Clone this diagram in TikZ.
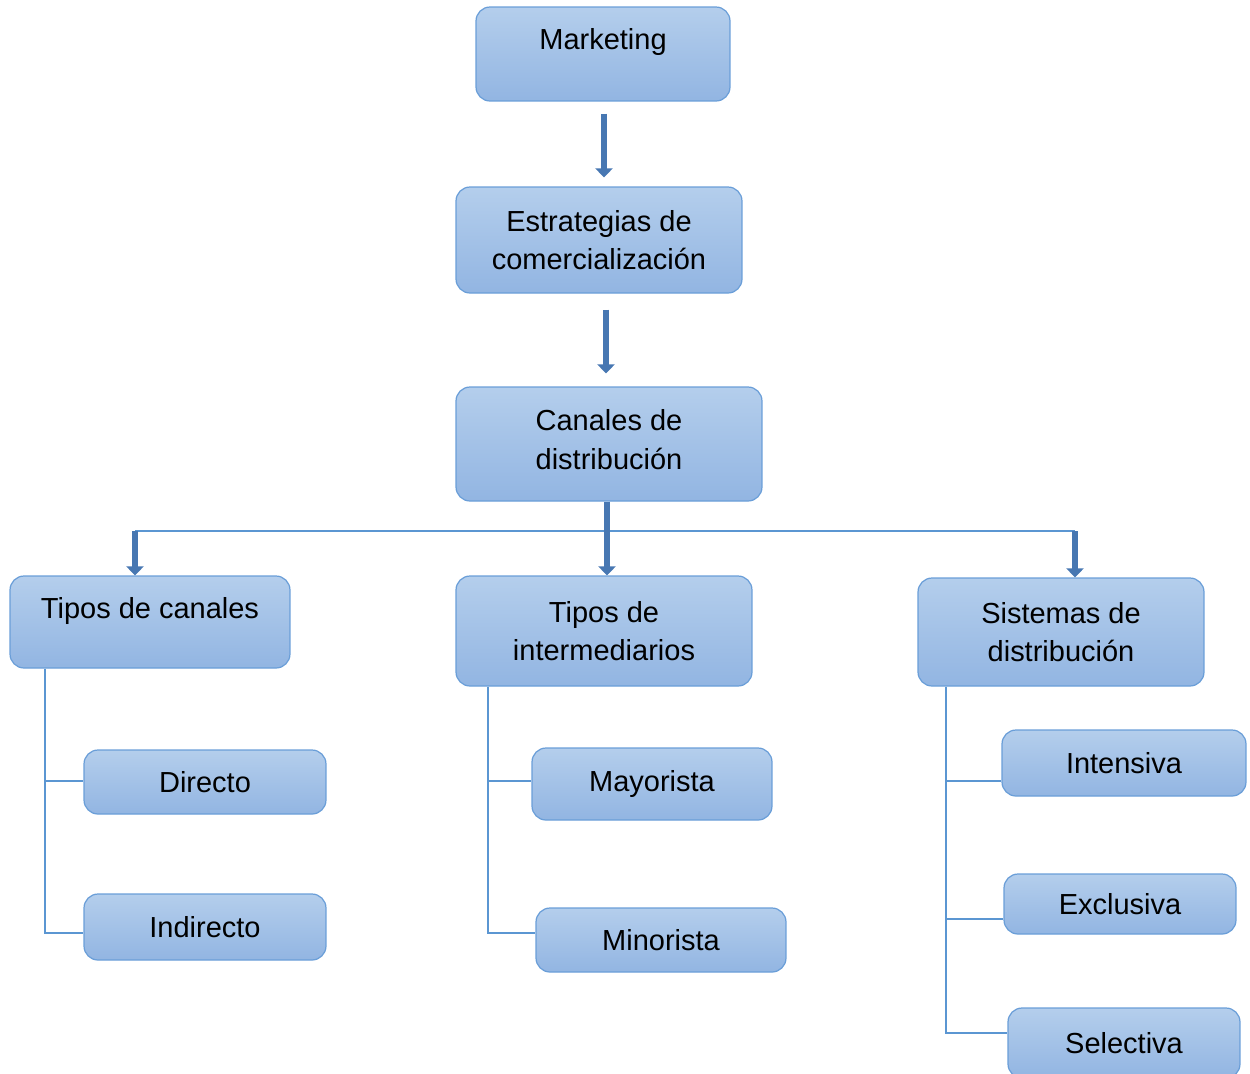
\documentclass[tikz,border=0pt]{standalone}
\usepackage{fontspec}
\setmainfont{Liberation Sans}
\usetikzlibrary{arrows.meta}

\definecolor{boxtop}{HTML}{B4CEEC}
\definecolor{boxbottom}{HTML}{92B5E2}
\definecolor{boxline}{HTML}{6A9ED8}
\definecolor{treeline}{HTML}{5B96D2}
\definecolor{arrowblue}{HTML}{4777B2}

\begin{document}
\begin{tikzpicture}[x=0.02cm,y=-0.02cm,
    box/.style={draw=boxline,line width=0.7pt,rounded corners=0.28cm,
        top color=boxtop,bottom color=boxbottom,inner sep=0pt,align=center,
        font=\fontsize{16.5}{22}\selectfont},
    bigarrow/.style={arrowblue,line width=0.13cm,
        -{Triangle[width=0.34cm,length=0.18cm]}},
    tree/.style={treeline,line width=0.6pt}]

    \useasboundingbox (0,0) rectangle (1250,1073);

    % Top chain
    \node[box,minimum width=5.08cm,minimum height=1.88cm] (mkt) at (603,54) {Marketing\\[-4.5pt]\mbox{}};
    \node[box,minimum width=5.72cm,minimum height=2.12cm] (est) at (599,240) {Estrategias de\\comercialización};
    \node[box,minimum width=6.12cm,minimum height=2.28cm] (can) at (609,444) {Canales de\\distribución\\[-17pt]\mbox{}};

    % Second level
    \node[box,minimum width=5.6cm,minimum height=1.84cm] (tcan) at (150,622) {Tipos de canales\\[-6pt]\mbox{}};
    \node[box,minimum width=5.92cm,minimum height=2.2cm] (tint) at (604,631) {Tipos de\\intermediarios};
    \node[box,minimum width=5.72cm,minimum height=2.16cm] (sis) at (1061,632) {Sistemas de\\distribución};

    % Leaves
    \node[box,minimum width=4.84cm,minimum height=1.28cm] (dir) at (205,782) {Directo};
    \node[box,minimum width=4.84cm,minimum height=1.32cm] (ind) at (205,927) {Indirecto};
    \node[box,minimum width=4.8cm,minimum height=1.44cm] (may) at (652,784) {Mayorista};
    \node[box,minimum width=5cm,minimum height=1.28cm] (min) at (661,940) {Minorista};
    \node[box,minimum width=4.88cm,minimum height=1.32cm] (inten) at (1124,763) {Intensiva};
    \node[box,minimum width=4.64cm,minimum height=1.2cm] (exc) at (1120,904) {Exclusiva};
    \node[box,minimum width=4.64cm,minimum height=1.4cm] (sel) at (1124,1043) {Selectiva};

    % Arrows
    \draw[bigarrow,shorten <=0.24cm,shorten >=0.18cm] (mkt.south -| 604,0) -- (est.north -| 604,0);
    \draw[bigarrow,shorten <=0.32cm,shorten >=0.26cm] (est.south -| 606,0) -- (can.north -| 606,0);

    \coordinate (bl) at (135,531);
    \coordinate (br) at (1075,531);
    \draw[tree] (bl) -- (br);
    \draw[bigarrow] (can.south -| 607,0) -- (tint.north -| 607,0);
    \draw[bigarrow] (bl) -- (bl |- tcan.north);
    \draw[bigarrow] (br) -- (br |- sis.north);

    % Branches
    \coordinate (l1) at (45,781);
    \coordinate (l2) at (45,933);
    \draw[tree] (tcan.south -| l1) -- (l2) -- (l2 -| ind.west);
    \draw[tree] (l1) -- (l1 -| dir.west);

    \coordinate (m1) at (488,781);
    \coordinate (m2) at (488,933);
    \draw[tree] (tint.south -| m1) -- (m2) -- (m2 -| min.west);
    \draw[tree] (m1) -- (m1 -| may.west);

    \coordinate (r1) at (946,781);
    \coordinate (r2) at (946,919);
    \coordinate (r3) at (946,1033);
    \draw[tree] (sis.south -| r1) -- (r3) -- (r3 -| sel.west);
    \draw[tree] (r1) -- (r1 -| inten.west);
    \draw[tree] (r2) -- (r2 -| exc.west);

\end{tikzpicture}
\end{document}
